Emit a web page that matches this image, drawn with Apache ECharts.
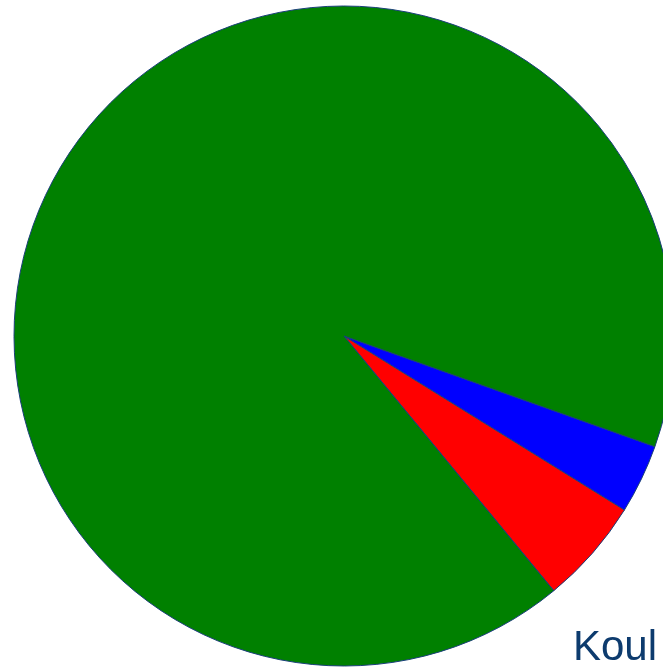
<!DOCTYPE html>
<html>
<head>
<meta charset="utf-8">
<script src="https://cdn.jsdelivr.net/npm/echarts@6/dist/echarts.min.js"></script>
<style>
html,body{margin:0;padding:0;background:#fff;}
#chart{width:663px;height:668px;}
</style>
</head>
<body>
<div id="chart"></div>
<script>
var categories = ['Blue', 'Red', 'Green'];
var values = [3.4, 5.2, 91.5];
var colors = ['#0000ff', '#ff0000', '#008000'];
var labelText = 'Koul';

var chart = echarts.init(document.getElementById('chart'), null, {renderer: 'canvas'});
var data = categories.map(function (c, i) {
  return {name: c, value: values[i], itemStyle: {color: colors[i]}};
});
chart.setOption({
  animation: false,
  backgroundColor: '#ffffff',
  series: [{
    type: 'pie',
    center: [344, 336],
    radius: [0, 330],
    startAngle: -19.6,
    clockwise: true,
    silent: true,
    label: {show: false},
    labelLine: {show: false},
    itemStyle: {borderColor: '#1a3f7a', borderWidth: 1},
    emphasis: {disabled: true},
    data: data
  }],
  graphic: [{
    type: 'text',
    left: 573,
    top: 627,
    style: {
      text: labelText,
      font: '42px "Liberation Sans", Arial, sans-serif',
      fill: '#0d3b6e'
    }
  }]
});
</script>
</body>
</html>
